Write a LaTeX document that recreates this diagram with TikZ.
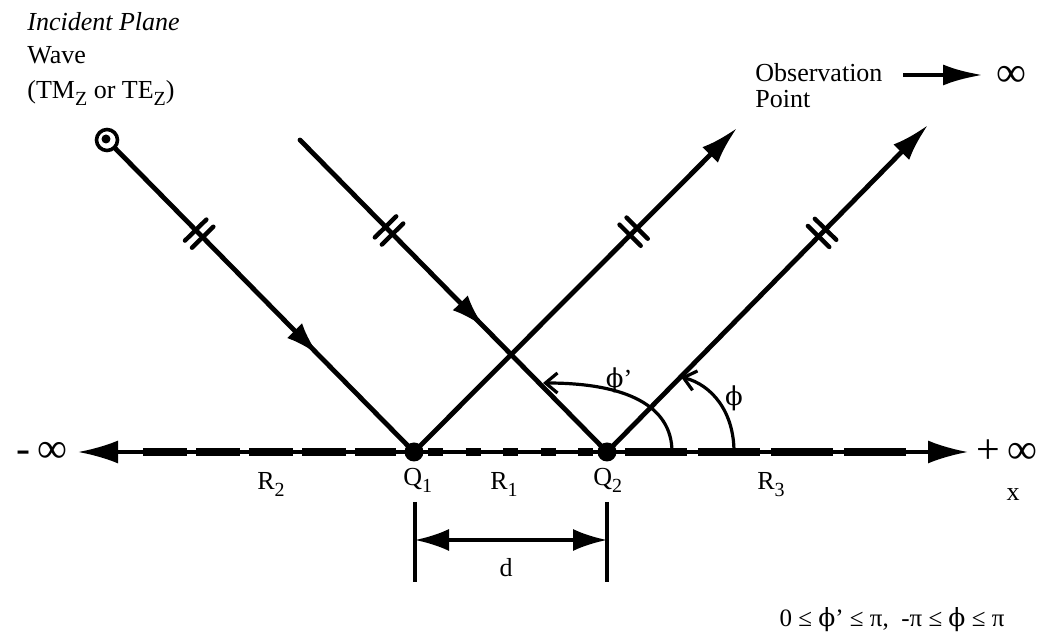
\documentclass[tikz,border=0pt]{standalone}
\usepackage{fontspec}
\setmainfont{Liberation Serif}
\newfontfamily\grk{DejaVu Serif}
\usetikzlibrary{arrows.meta,decorations.markings}
\tikzset{
  raytip/.tip={Latex[length=17pt,width=10.5pt]},
  endtip/.tip={Latex[length=19pt,width=11pt]},
  axtip/.tip={Latex[length=20pt,width=11.5pt]},
  dtip/.tip={Latex[length=17pt,width=11pt]},
  barb/.tip={Straight Barb[length=6pt,width=10pt]},
}
\newcommand{\ph}{{\grk ϕ}}
\newcommand{\sbs}[1]{\raisebox{-0.55ex}{\fontsize{10}{10}\selectfont #1}}
\begin{document}
\begin{tikzpicture}[x=0.5pt,y=-0.5pt,
  lbl/.style={inner sep=0pt, font=\fontsize{13}{15}\selectfont},
  big/.style={inner sep=0pt, font=\fontsize{21}{24}\selectfont},
  ray/.style={line width=2.4pt, line cap=round},
  thin/.style={line width=1.6pt},
  dot/.style={circle, fill=black, inner sep=0pt, minimum size=9.5pt},
  ticks at/.style={postaction={decorate, decoration={markings,
      mark=at position #1 with {
        \draw[-, line width=2.2pt, line cap=round] (-5,-15) -- (-5,15);
        \draw[-, line width=2.2pt, line cap=round] (5,-15) -- (5,15);}}}},
  arrow at/.style={postaction={decorate, decoration={markings,
      mark=at position #1 with {\arrow{raytip}}}}},
]
\useasboundingbox (0,0) rectangle (1045,640);

% points
\node[dot] (Q1) at (414,452) {};
\node[dot] (Q2) at (607,452) {};
\node[circle, draw, line width=1.8pt, minimum size=10.5pt, inner sep=0pt] (src) at (107,140) {};
\fill (106,139) circle (4.5);
\coordinate (S2) at (300,140);
\coordinate (T1) at (737,128);
\coordinate (T2) at (928,125);

% axis
\coordinate (L) at (78,452);
\coordinate (R) at (968,452);
\draw[thin, {axtip}-{axtip}] (L) -- (R);
\draw[line width=3.6pt, dash pattern=on 22pt off 4.5pt] (143,452) -- (396,452);
\draw[line width=3.6pt, dash pattern=on 7.5pt off 11.25pt] (428,452) -- (600,452);
\draw[line width=3.6pt, dash pattern=on 31pt off 5.5pt] (625,452) -- (907,452);

% rays
\draw[ray, ticks at=0.28, arrow at=0.68] (src) -- (Q1.center);
\draw[ray, ticks at=0.29, arrow at=0.60] (S2) -- (Q2.center);
\draw[ray, ticks at=0.68, -{endtip}] (Q1.center) -- (T1);
\draw[ray, ticks at=0.67, -{endtip}] (Q2.center) -- (T2);

% angle arcs
\coordinate (a1s) at (672,452);
\coordinate (a1e) at (543,383);
\draw[thin, -{barb}] (a1s) .. controls (672,405) and (625,383) .. (a1e);
\coordinate (a2s) at (734,452);
\coordinate (a2e) at (681,377);
\draw[thin, -{barb}] (a2s) .. controls (734,412) and (712,385) .. (a2e);
\node[lbl] (phip) at (619,380) {\ph'};
\node[lbl] (phi) at (734,398) {\ph};

% d dimension
\coordinate (b1t) at (415,502);
\coordinate (b1b) at (415,582);
\coordinate (b2t) at (607,502);
\coordinate (b2b) at (607,582);
\draw[thin] (b1t) -- (b1b);
\draw[thin] (b2t) -- (b2b);
\coordinate (d1) at (415,540);
\coordinate (d2) at (607,540);
\draw[thin, {dtip}-{dtip}] (d1) -- (d2);
\node[lbl] (dl) at (506,568) {d};

% axis labels
\node[lbl, anchor=base west] (q1l) at (403,486) {Q\sbs{1}};
\node[lbl, anchor=base west] (q2l) at (593,486) {Q\sbs{2}};
\node[lbl, anchor=base west] (r1l) at (490,490) {R\sbs{1}};
\node[lbl, anchor=base west] (r2l) at (257,490) {R\sbs{2}};
\node[lbl, anchor=base west] (r3l) at (757,490) {R\sbs{3}};
\node[lbl] (xl) at (1013,495) {x};
\node[big] (minf) at (42,452) {-\,∞};
\node[big] (pinf) at (1007,452) {+\,∞};

% incident wave text
\node[lbl, anchor=base west] (inc1) at (27,31) {\itshape Incident Plane};
\node[lbl, anchor=base west] (inc2) at (27,64) {Wave};
\node[lbl, anchor=base west] (inc3) at (27,99) {(TM\sbs{Z} or TE\sbs{Z})};

% observation
\node[lbl, anchor=base west] (obs1) at (755,82) {Observation};
\node[lbl, anchor=base west] (obs2) at (755,108) {Point};
\coordinate (oa) at (903,75);
\coordinate (ob) at (983,75);
\draw[ray, line cap=butt, -{Latex[length=20pt,width=10.5pt]}] (oa) -- (ob);
\node[big] (oinf) at (1011,76) {∞};

% range
\node[lbl, font=\fontsize{12.5}{14}\selectfont] (rng) at (892,620) {0 ≤ \ph' ≤ π,\ \ -π ≤ \ph\ ≤ π};
\end{tikzpicture}
\end{document}
